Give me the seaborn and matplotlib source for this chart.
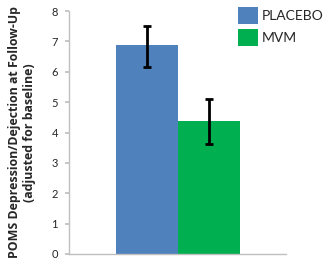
import matplotlib
matplotlib.use("Agg")
import matplotlib.pyplot as plt
import seaborn as sns
import pandas as pd
from matplotlib.patches import Patch

groups = ["PLACEBO", "MVM"]
means = [6.87, 4.38]
err_low = [6.17, 3.63]
err_high = [7.52, 5.12]
colors = ["#4F81BD", "#00B050"]
yticks = [0, 1, 2, 3, 4, 5, 6, 7, 8]
ylabel = "POMS Depression/Dejection at Follow-Up\n(adjusted for baseline)"

sns.set_theme(style="white")
plt.rcParams['font.family'] = ['Lato', 'DejaVu Sans']

df = pd.DataFrame({"x": ["all"] * len(groups), "group": groups, "value": means})

fig = plt.figure(figsize=(3.3, 2.65), dpi=100)
ax = fig.add_axes([0.209, 0.042, 0.658, 0.916])
sns.barplot(data=df, x="x", y="value", hue="group", hue_order=groups,
            palette=colors, width=0.571, errorbar=None, saturation=1,
            linewidth=0, ax=ax, legend=False)

bars = [p for p in ax.patches]
for i, p in enumerate(bars[:len(groups)]):
    cx = p.get_x() + p.get_width() / 2
    m = means[i]
    ax.errorbar([cx], [m], yerr=[[m - err_low[i]], [err_high[i] - m]],
                fmt="none", ecolor="black", elinewidth=2, capsize=3, capthick=2)

ax.set_xlim(-0.5, 0.5)
ax.set_ylim(0, 8)
ax.set_yticks(yticks)
ax.set_yticklabels([str(t) for t in yticks], fontsize=8)
ax.set_xticks([])
ax.set_xlabel("")
ax.set_ylabel(ylabel, fontsize=8.9, fontweight="bold", labelpad=11, linespacing=1.2,
              family=["Open Sans", "DejaVu Sans"])
sns.despine(ax=ax)
for s in ["left", "bottom"]:
    ax.spines[s].set_color("#BFBFBF")
    ax.spines[s].set_linewidth(1)
ax.tick_params(axis="y", which="both", left=True, length=3, color="#BFBFBF", pad=5)

handles = [Patch(facecolor=c, edgecolor="none") for c in colors]
fig.legend(handles, groups, loc="upper left", bbox_to_anchor=(0.72, 0.975),
           frameon=False, fontsize=10, handlelength=1.45, handleheight=1.5,
           handletextpad=0.3, labelspacing=0.4, borderaxespad=0.0, borderpad=0.0)

fig.savefig("out.png", dpi=100)
